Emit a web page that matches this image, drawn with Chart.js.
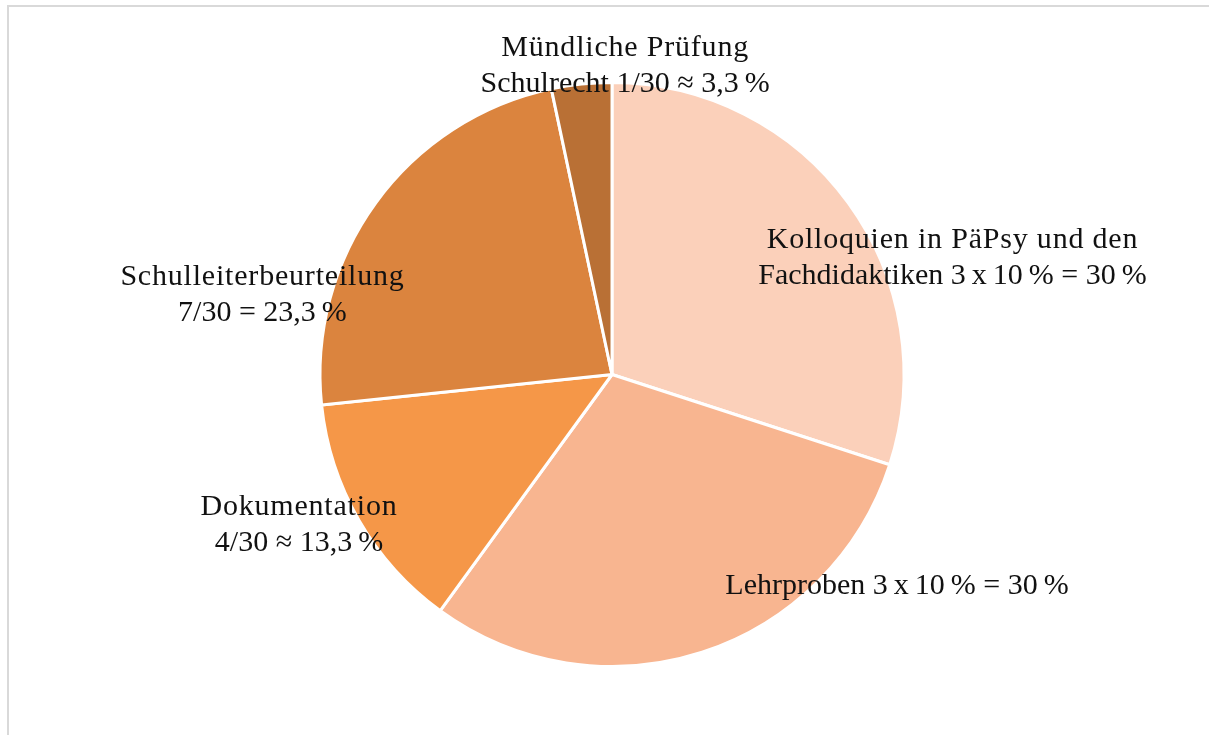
<!DOCTYPE html>
<html>
<head>
<meta charset="utf-8">
<script src="https://cdn.jsdelivr.net/npm/chart.js@4"></script>
<style>
  body { margin: 0; background: #fff; overflow: hidden; }
  #rahmen { position: absolute; left: 7px; top: 5px; width: 1400px; height: 900px;
            border: 2px solid #d9d9d9; }
  #wrap { position: absolute; left: 0; top: 0; width: 1209px; height: 735px; }
</style>
</head>
<body>
<div id="rahmen"></div>
<div id="wrap"><canvas id="pruefungChart"></canvas></div>
<script>
// Daten
const kategorien = ['Kolloquien', 'Lehrproben', 'Dokumentation', 'Schulleiterbeurteilung', 'Mündliche Prüfung'];
const anteile = [30, 30, 13.33, 23.33, 3.33];
const beschriftungen = [
    ['Kolloquien in PäPsy und den', 'Fachdidaktiken 3\u2009x\u200910\u2009% = 30\u2009%'],
    ['Lehrproben 3\u2009x\u200910\u2009% = 30\u2009%'],
    ['Dokumentation', '4/30 ≈ 13,3\u2009%'],
    ['Schulleiterbeurteilung', '7/30 = 23,3\u2009%'],
    ['Mündliche Prüfung', 'Schulrecht 1/30 ≈ 3,3\u2009%']
];
const farben = ['#FBD0BA', '#F8B590', '#F59748', '#DB843E', '#B97035'];

// Lage der Beschriftungen (in Radien, relativ zum Mittelpunkt)
const labelOffset = [[1.166, -0.397], [0.976, 0.724], [-1.072, 0.517], [-1.197, -0.272], [0.045, -1.055]];

const labelPlugin = {
    id: 'labels',
    afterDatasetsDraw(chart) {
        const ctx = chart.ctx;
        const arcs = chart.getDatasetMeta(0).data;
        const cx = arcs[0].x, cy = arcs[0].y, r = arcs[0].outerRadius;
        ctx.save();
        ctx.font = '30px "Liberation Serif", serif';
        ctx.fillStyle = '#111';
        ctx.textAlign = 'center';
        ctx.textBaseline = 'middle';
        beschriftungen.forEach((lines, i) => {
            const x = cx + labelOffset[i][0] * r;
            const y = cy + labelOffset[i][1] * r;
            const lh = 36;
            const start = y - (lines.length - 1) * lh / 2;
            lines.forEach((t, j) => {
                // Zeilen mit Zahlen enger setzen
                ctx.letterSpacing = /\d/.test(t) ? '0px' : '0.8px';
                ctx.fillText(t, x, start + j * lh);
            });
        });
        ctx.restore();
    }
};

const ctx = document.getElementById('pruefungChart').getContext('2d');
new Chart(ctx, {
    type: 'pie',
    data: {
        labels: kategorien,
        datasets: [{
            data: anteile,
            backgroundColor: farben,
            borderColor: '#ffffff',
            borderWidth: 3
        }]
    },
    options: {
        responsive: true,
        maintainAspectRatio: false,
        animation: false,
        layout: { padding: { top: 81, bottom: 67, left: 15, right: 0 } },
        plugins: {
            legend: { display: false },
            tooltip: { enabled: false }
        }
    },
    plugins: [labelPlugin]
});
</script>
</body>
</html>
